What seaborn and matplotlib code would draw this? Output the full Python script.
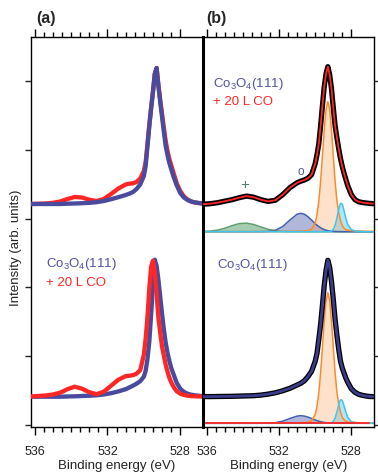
import numpy as np
import seaborn as sns
import matplotlib
matplotlib.use("Agg")
import matplotlib.pyplot as plt
from matplotlib.ticker import FixedLocator

# Binding energy grid (eV)
energy = [536.2, 535.8, 535.4, 535.0, 534.6, 534.2, 533.8, 533.4, 533.0, 532.6, 532.2, 531.8, 531.4, 531.0,
          530.8, 530.6, 530.4, 530.2,
          530.0, 529.9, 529.8, 529.7, 529.6, 529.5, 529.4, 529.3, 529.2, 529.1, 529.0, 528.9, 528.8,
          528.7, 528.6, 528.5, 528.4, 528.3, 528.2,
          528.0, 527.8, 527.6, 527.4, 527.2, 527.0, 526.8]

# (a) top: normalised spectra
a_top_clean = [0, 0, 0, 0, 0, 0.3, 0.5, 0.8, 1.2, 1.8, 3, 4.8, 6.8, 9,
               10.3, 12, 15, 19.5,
               28, 38, 58, 78, 96, 112, 130, 136, 118, 102, 87, 72, 58, 49, 41, 35, 29, 24, 19,
               11, 6.5, 4, 2.5, 1.6, 1, 0.6]
a_top_co = [0, 0.2, 0.5, 1.2, 2.5, 5, 7, 6.5, 4.3, 3, 5, 10, 15.5, 19.5,
            20.3, 20.7, 22, 25.5,
            33, 42, 60, 79, 96, 112, 130, 136, 119, 104, 90, 76, 63, 53, 45, 39, 33, 27, 21,
            13, 7.5, 4.5, 2.5, 1.5, 1, 0.6]
# (a) bottom: raw spectra
a_bot_clean = [0, 0, 0, 0, 0, 0.2, 0.4, 0.7, 1, 1.4, 2.2, 3.5, 5.3, 7.5,
               9.2, 11, 13, 15.5,
               20, 26, 38, 55, 82, 112, 137, 131, 117, 100, 83, 67, 54, 44, 36, 29, 24, 19, 14,
               8, 4.8, 3, 2, 1.4, 1, 0.6]
a_bot_co = [0.3, 0.7, 1.2, 2.2, 4, 7.5, 10, 8, 4.5, 2.5, 5, 11, 17, 20.5,
            21, 21.5, 23, 26.5,
            42, 58, 80, 108, 130, 136, 124, 103, 79, 64, 50, 41, 32, 25, 19, 14.5, 11, 8, 5.5,
            3, 1.8, 1, 0.6, 0.4, 0.3, 0.2]

# (b) top: Co3O4(111) + 20 L CO, data/fit and components
b_top_total = [27.5, 28, 29, 30.5, 32, 34, 35.6, 34.5, 32, 30.3, 31.5, 37, 44, 49,
               50.5, 51.7, 53.5, 57,
               68, 77, 88, 106, 126, 145, 158, 165, 157, 143, 124, 106, 94, 83, 73, 65, 58, 52, 46,
               37, 32, 30, 29.2, 28.7, 28.3, 28]
b_top_green = [0.15, 0.56, 1.57, 3.46, 6.0, 8.1, 8.6, 7.2, 4.7, 2.4, 0.96, 0.3, 0.08, 0.02,
               0, 0, 0, 0,
               0, 0, 0, 0, 0, 0, 0, 0, 0, 0, 0, 0, 0, 0, 0, 0, 0, 0, 0,
               0, 0, 0, 0, 0, 0, 0]
b_top_blue = [0, 0, 0, 0, 0, 0, 0, 0, 0.04, 0.29, 1.49, 5.1, 11.6, 17.5,
              18.4, 17.5, 15.0, 11.6,
              8.1, 6.5, 5.1, 3.9, 2.9, 2.1, 1.49, 1.0, 0.69, 0.45, 0.29, 0.18, 0.11, 0.07, 0.04, 0, 0, 0, 0,
              0, 0, 0, 0, 0, 0, 0]
b_top_orange = [0.02, 0.03, 0.03, 0.04, 0.05, 0.06, 0.07, 0.08, 0.1, 0.12, 0.16, 0.22, 0.31, 0.47,
                0.6, 0.78, 1.1, 2.5,
                8.7, 16.8, 30.3, 50.4, 75.7, 101.7, 122.1, 130, 122.1, 101.7, 75.7, 50.4, 31, 19, 11, 6, 3.3, 2.1, 1.4,
                1.0, 0.8, 0.6, 0.5, 0.4, 0.35, 0.3]
b_top_cyan = [0, 0, 0, 0, 0, 0, 0, 0, 0, 0, 0, 0, 0, 0,
              0, 0, 0, 0,
              0, 0, 0, 0, 0, 0, 0, 0, 0.15, 0.6, 2.3, 6.3, 13.6, 22.4, 28.4, 27.6, 20.7, 13, 7,
              2, 0.8, 0.3, 0.1, 0, 0, 0]

# (b) bottom: clean Co3O4(111)
b_bot_total = [26.7, 26.7, 26.8, 26.9, 27, 27.2, 27.4, 27.6, 28.2, 29.2, 30.5, 32.5, 35, 38.3,
               40, 42.5, 46.7, 52,
               62, 70, 84, 99, 118, 138, 153, 163, 156, 142, 124, 104, 88, 74, 62, 55, 50, 45, 41,
               34.5, 31, 29, 28, 27.3, 26.8, 26.7]
b_bot_blue = [0, 0, 0, 0, 0, 0, 0, 0, 0.02, 0.12, 0.62, 2.1, 4.8, 7.2,
              7.6, 7.2, 6.2, 4.8,
              3.3, 2.7, 2.1, 1.6, 1.2, 0.87, 0.62, 0.41, 0.28, 0.19, 0.12, 0.07, 0.05, 0, 0, 0, 0, 0, 0,
              0, 0, 0, 0, 0, 0, 0]
b_bot_orange = [0.02, 0.03, 0.03, 0.04, 0.05, 0.06, 0.07, 0.08, 0.1, 0.12, 0.16, 0.22, 0.31, 0.47,
                0.6, 0.78, 1.1, 2.5,
                8.8, 16.9, 30.5, 50.7, 76.1, 102.2, 122.8, 130.7, 122.8, 102.2, 76.1, 50.7, 31.2, 19.1, 11.1, 6, 3.3, 2.1, 1.4,
                1.0, 0.8, 0.6, 0.5, 0.4, 0.35, 0.3]
b_bot_cyan = [0, 0, 0, 0, 0, 0, 0, 0, 0, 0, 0, 0, 0, 0,
              0, 0, 0, 0,
              0, 0, 0, 0, 0, 0, 0, 0, 0.1, 0.5, 1.9, 5.2, 11.3, 18.6, 23.6, 22.9, 17.2, 10.8, 5.8,
              1.7, 0.7, 0.25, 0.1, 0, 0, 0]

# vertical offsets of the stacked spectra (arb. units)
off_a_top, off_a_bot = 221, 28.3
off_b_top, off_b_bot = 193.3, 1.7
tick_step = 68.8

RED = "#ff2626"
NAVY = "#4a4a9e"
TXT_BLUE = "#5252a2"

sns.set_theme(style="ticks")
plt.rcParams["font.family"] = ["Liberation Sans", "DejaVu Sans"]
plt.rcParams["mathtext.fontset"] = "custom"
plt.rcParams["mathtext.rm"] = "Liberation Sans"

fig = plt.figure(figsize=(3.78, 4.74), dpi=100)
ax_a = fig.add_axes([31 / 378, 1 - 427 / 474, 172 / 378, 390 / 474])
ax_b = fig.add_axes([203 / 378, 1 - 427 / 474, 171 / 378, 390 / 474])

E = np.array(energy)


def curve(ax, y, off, color, lw, z):
    sns.lineplot(x=E, y=np.array(y) + off, ax=ax, color=color, lw=lw,
                 zorder=z, solid_capstyle="round", sort=False)


# ---- (a)
curve(ax_a, a_top_co, off_a_top, RED, 3.1, 3)
curve(ax_a, a_top_clean, off_a_top, NAVY, 3.1, 4)
curve(ax_a, a_bot_clean, off_a_bot, NAVY, 3.1, 3)
curve(ax_a, a_bot_co, off_a_bot, RED, 3.1, 4)

CO3O4 = "Co$_\\mathregular{3}$O$_\\mathregular{4}$(111)"
ax_a.text(535.4, 161, CO3O4, color=TXT_BLUE, fontsize=9.5, va="center", ha="left")
ax_a.text(535.4, 142, "+ 20 L CO", color=RED, fontsize=9.5, va="center", ha="left")

# ---- (b) components
comps_top = [(b_top_green, "#6aaa7a", 0.6, "#5f9e6e"),
             (b_top_blue, "#5060b0", 0.45, "#4060b0"),
             (b_top_cyan, "#50c8f0", 0.45, "#3cc6f0"),
             (b_top_orange, "#fa9c50", 0.3, "#ff8a2a")]
for vals, fc, al, ec in comps_top:
    ax_b.fill_between(E, off_b_top, np.array(vals) + off_b_top, color=fc, alpha=al, lw=0, zorder=1)
for vals, fc, al, ec in [comps_top[0], comps_top[1], comps_top[3], comps_top[2]]:
    curve(ax_b, vals, off_b_top, ec, 1.1, 2)

comps_bot = [(b_bot_blue, "#5060b0", 0.45, "#4060b0"),
             (b_bot_cyan, "#50c8f0", 0.45, "#3cc6f0"),
             (b_bot_orange, "#fa9c50", 0.3, "#ff8a2a")]
for vals, fc, al, ec in comps_bot:
    ax_b.fill_between(E, off_b_bot, np.array(vals) + off_b_bot, color=fc, alpha=al, lw=0, zorder=1)
for vals, fc, al, ec in [comps_bot[0], comps_bot[2], comps_bot[1]]:
    curve(ax_b, vals, off_b_bot, ec, 1.1, 2)
ax_b.axhline(off_b_bot, xmin=0.02, xmax=0.97, color=RED, lw=1.3, zorder=2.5)

# data (black) with fit lines
curve(ax_b, b_top_total, off_b_top, "black", 3.8, 3)
curve(ax_b, b_top_total, off_b_top, RED, 1.3, 4)
curve(ax_b, b_bot_total, off_b_bot, "black", 3.8, 3)
curve(ax_b, b_bot_total, off_b_bot, "#3c3c8e", 2.0, 4)

ax_b.text(535.65, 341, CO3O4, color=TXT_BLUE, fontsize=9.5, va="center", ha="left")
ax_b.text(535.65, 323, "+ 20 L CO", color=RED, fontsize=9.5, va="center", ha="left")
ax_b.text(535.43, 160, CO3O4, color=TXT_BLUE, fontsize=9.5, va="center", ha="left")
ax_b.text(533.9, 240, "+", color="#4f7d6b", fontsize=11, va="center", ha="center")
ax_b.text(530.8, 253, "o", color=TXT_BLUE, fontsize=8.5, va="center", ha="center")

# ---- axes styling
for ax in (ax_a, ax_b):
    ax.set_xlim(536.2, 526.75)
    ax.set_ylim(-2, 388)
    ax.xaxis.set_major_locator(FixedLocator([536, 532, 528]))
    ax.xaxis.set_minor_locator(FixedLocator(np.arange(528, 536.01, 0.5)))
    ax.tick_params(axis="x", which="both", top=True, bottom=True, direction="out",
                   color="black", width=1, labelsize=9, pad=8, labelcolor="#222222")
    ax.tick_params(axis="x", which="major", length=6)
    ax.tick_params(axis="x", which="minor", length=3.5)
    ax.set_yticks(np.arange(6) * tick_step)
    ax.tick_params(axis="y", direction="out", length=4, width=1,
                   labelleft=False, labelright=False)
    for s in ax.spines.values():
        s.set_color("black")
        s.set_linewidth(1.0)
    ax.set_xlabel("Binding energy (eV)", fontsize=9.5, labelpad=1, color="#222222")
    ax.set_ylabel("")

ax_a.spines["right"].set_visible(False)
ax_a.tick_params(axis="y", left=True, right=False)
ax_b.spines["left"].set_linewidth(2.2)
ax_b.tick_params(axis="y", left=False, right=True)

fig.text(16 / 378, 1 - 248 / 474, "Intensity (arb. units)", rotation=90,
         ha="center", va="center", fontsize=9.5, color="#222222")
fig.text(46 / 378, 1 - 19 / 474, "(a)", fontsize=11.5, fontweight="bold", ha="center", va="center")
fig.text(216 / 378, 1 - 19 / 474, "(b)", fontsize=11.5, fontweight="bold", ha="center", va="center")

fig.savefig("out.png", dpi=100)
